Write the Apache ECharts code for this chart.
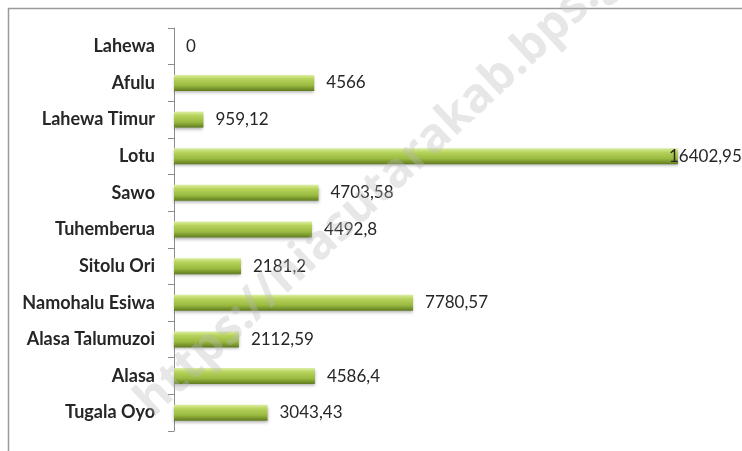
<!DOCTYPE html>
<html>
<head>
<meta charset="utf-8">
<script src="https://cdn.jsdelivr.net/npm/echarts@6/dist/echarts.min.js"></script>
<style>
  html, body { margin: 0; padding: 0; background: #fff; }
  #main { width: 742px; height: 451px; }
</style>
</head>
<body>
<div id="main"></div>
<script>
// kecamatan (dari atas ke bawah)
var categories = ["Lahewa", "Afulu", "Lahewa Timur", "Lotu", "Sawo", "Tuhemberua",
  "Sitolu Ori", "Namohalu Esiwa", "Alasa Talumuzoi", "Alasa", "Tugala Oyo"];
var values = [0, 4566, 959.12, 16402.95, 4703.58, 4492.8, 2181.2, 7780.57, 2112.59, 4586.4, 3043.43];
var watermark = "https://niasutarakab.bps.go.id";

var myChart = echarts.init(document.getElementById("main"));

var barColor = new echarts.graphic.LinearGradient(0, 0, 0, 1, [
  { offset: 0, color: "#dcefa2" },
  { offset: 0.25, color: "#b7d35c" },
  { offset: 0.65, color: "#9aba40" },
  { offset: 1, color: "#5f7b20" }
]);

var seriesData = values.map(function (v, i) {
  var item = { value: v };
  // label Lotu menempel di ujung batang
  if (categories[i] === "Lotu") {
    item.label = { offset: [-21, 0] };
  }
  return item;
});

var option = {
  animation: false,
  grid: { left: 174, top: 28, bottom: 20, right: 15 },
  xAxis: {
    type: "value",
    min: 0,
    max: 18000,
    show: false
  },
  yAxis: {
    type: "category",
    inverse: true,
    data: categories,
    axisLine: { show: true, lineStyle: { color: "#8c8c8c", width: 1 } },
    axisTick: { show: true, length: 6, lineStyle: { color: "#8c8c8c" } },
    axisLabel: {
      margin: 19,
      color: "#262626",
      fontFamily: "Lato",
      fontWeight: "bold",
      fontSize: 18
    }
  },
  series: [
    {
      type: "bar",
      data: seriesData,
      barWidth: 16,
      itemStyle: {
        color: barColor,
        shadowBlur: 3,
        shadowOffsetY: 2,
        shadowColor: "rgba(0,0,0,0.3)"
      },
      label: {
        show: true,
        position: "right",
        distance: 12,
        color: "#262626",
        fontFamily: "Lato",
        fontSize: 17,
        formatter: function (p) {
          return String(p.value).replace(".", ",");
        }
      }
    }
  ],
  graphic: [
    {
      type: "rect",
      left: 6,
      top: 6,
      shape: { width: 800, height: 500 },
      style: { fill: "none", stroke: "#9a9a9a", lineWidth: 1.5 },
      silent: true,
      z: -1
    },
    {
      type: "text",
      x: 410,
      y: 160,
      rotation: Math.PI * 43 / 180,
      style: {
        text: watermark,
        fill: "rgba(185,185,185,0.35)",
        font: "bold 48px 'Open Sans'",
        align: "center",
        verticalAlign: "middle"
      },
      silent: true,
      z: 100
    }
  ]
};

myChart.setOption(option);
</script>
</body>
</html>
